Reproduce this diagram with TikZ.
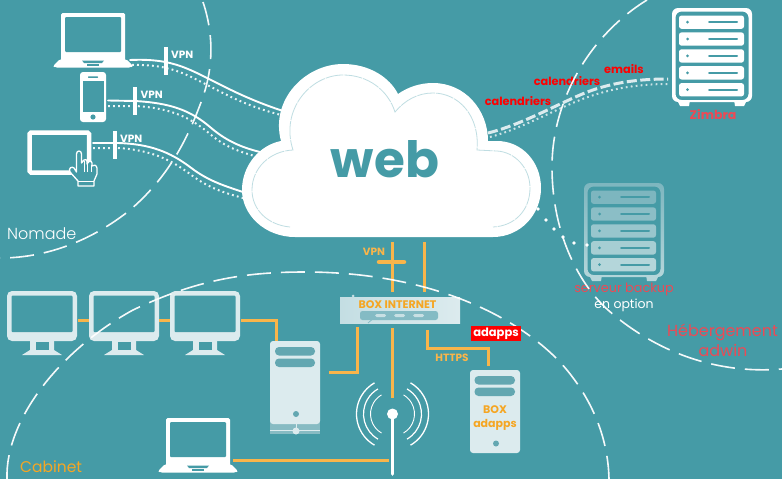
\documentclass[tikz,border=0pt]{standalone}
\usepackage{fontspec}
\setmainfont{Poppins}
\newfontfamily\pl[UprightFont={* Light}]{Poppins}
\usetikzlibrary{calc}
\definecolor{bg}{HTML}{459BA6}
\definecolor{pale}{HTML}{DCEBEE}
\definecolor{orng}{HTML}{F9B54A}
\definecolor{orngt}{HTML}{F5A623}
\definecolor{rosey}{HTML}{EC4A55}
\definecolor{barc}{HTML}{63A7B1}
\definecolor{innerc}{HTML}{BFDDE2}
\definecolor{bktop}{HTML}{7DB6BF}
\definecolor{bkbot}{HTML}{B4D6DA}
\definecolor{boxl}{HTML}{C4DEE3}
\definecolor{boxbar}{HTML}{84BBC4}
\definecolor{boxlight}{HTML}{C8E0E4}
\tikzset{
  wire/.style={white,line width=1.9pt,line cap=round},
  dots/.style={white,opacity=.9,line width=2pt,dash pattern=on 1.8pt off 3.2pt},
  zone/.style={white,opacity=.95,line width=1.6pt,dash pattern=on 24pt off 10pt},
  olink/.style={orng,line width=3pt},
  vpnbar/.style={white,line width=3.8pt},
  vlabel/.style={white,font=\fontsize{10.5}{12}\selectfont\bfseries,inner sep=0pt,anchor=west},
  olabel/.style={orngt,font=\fontsize{11}{13}\selectfont\bfseries,inner sep=0pt},
  rlabel/.style={red,font=\fontsize{11.3}{13}\selectfont\bfseries,inner sep=0pt},
  laptop/.pic={
    \fill[white,rounded corners=1.5pt] (0,0) rectangle (64,48);
    \fill[white,rounded corners=2pt] (-1,46)--(65,46)--(72,53)--(70,54.5)--(-6,54.5)--(-8,53)--cycle;
    \fill[bg,rounded corners=1pt] (4,4) rectangle (60,39);
    \fill[bg] (21,47.5) -- (43,47.5) -- (41,50) -- (23,50) -- cycle;
    \fill[bg] (26,51.2) rectangle (38,52.7);
  },
  monitor/.pic={
    \fill[pale,rounded corners=5pt] (0,0) rectangle (70,50);
    \fill[bg,rounded corners=1pt] (4.5,4.5) rectangle (65.5,41);
    \fill[pale] (23,50)--(47,50)--(47,59)--(55,64)--(15,64)--(23,59)--cycle;
    \fill[bg] (29,50.5) rectangle (42,59);
  },
}
\newcommand{\serverpic}[4]{%
  % #1 x, #2 y, #3 top colour, #4 bottom colour
  \begin{scope}[shift={(#1,#2)}]
    \shade[even odd rule,top color=#3,bottom color=#4,rounded corners=6pt]
      (0,0) rectangle (80,94)
      (3.5,3.5) rectangle (76.5,92);
    \fill[#4] (5,92) -- (18,92) -- (17,98) -- (8,98) -- cycle;
    \fill[#4] (62,92) -- (75,92) -- (72,98) -- (63,98) -- cycle;
    \foreach \i/\m in {0/0,1/25,2/50,3/75,4/100}{
      \pgfmathsetmacro{\yy}{7.5+\i*16.9}
      \fill[#4!\m!#3,rounded corners=2.5pt] (7,\yy) rectangle (72,\yy+13.3);
      \fill[bg] (15.5,\yy+6.6) circle (1.5);
      \draw[bg,line width=2pt,line cap=round] (37,\yy+6.6) -- (65,\yy+6.6);
    }
  \end{scope}}
\begin{document}
\begin{tikzpicture}[x=1pt,y=-1pt]
\useasboundingbox (0,0) rectangle (782,479);
\fill[bg] (0,0) rectangle (782,479);

% coordinates of connector ends
\coordinate (lapA) at (130,60);  \coordinate (lapB) at (132,65);
\coordinate (phoA) at (108,100.5); \coordinate (phoB) at (108,106);
\coordinate (tabA) at (93,143); \coordinate (tabB) at (93,148);
\coordinate (cloudA) at (283,111); \coordinate (cloudB) at (281,115);
\coordinate (cloudC) at (260,152); \coordinate (cloudD) at (258,157);
\coordinate (cloudE) at (243,192); \coordinate (cloudF) at (243,198);
\coordinate (cloudG) at (488,133); \coordinate (cloudH) at (490,137);
\coordinate (zimA) at (668,79); \coordinate (zimB) at (668,84);

% wires
\draw[wire] (lapA) .. controls (175,58) and (190,70) .. (225,87) .. controls (245,97) and (262,104) .. (cloudA);
\draw[dots] (lapB) .. controls (175,64) and (190,77) .. (225,94) .. controls (245,104) and (262,110) .. (cloudB);
\draw[wire] (phoA) -- (135,101) .. controls (170,103) and (190,110) .. (210,127) .. controls (225,140) and (240,147) .. (cloudC);
\draw[dots] (phoB) -- (135,106) .. controls (170,108) and (190,117) .. (210,134) .. controls (225,147) and (240,152) .. (cloudD);
\draw[wire] (tabA) -- (118,143) .. controls (150,144) and (170,152) .. (190,167) .. controls (208,181) and (225,186) .. (cloudE);
\draw[dots] (tabB) -- (118,148) .. controls (150,150) and (170,159) .. (190,174) .. controls (208,188) and (225,193) .. (cloudF);

\draw[pale,line width=3pt,dash pattern=on 10pt off 3.5pt] (cloudG) .. controls (520,125) and (550,108) .. (580,95) .. controls (610,82) and (640,79) .. (zimA);
\draw[dots,pale] (cloudH) .. controls (520,129) and (550,112) .. (580,100) .. controls (610,88) and (640,84) .. (zimB);

% VPN bars
\draw[vpnbar] (166,47) -- (166,75);
\draw[vpnbar] (135,87) -- (135,115);
\draw[vpnbar] (115,131) -- (115,159);
\node[vlabel] (vpna) at (171,55) {VPN};
\node[vlabel] (vpnb) at (140.5,95) {VPN};
\node[vlabel] (vpnc) at (120,138.5) {VPN};

% devices
\pic at (61,13) {laptop};
\pic at (166,418) {laptop};
% phone
\fill[white,rounded corners=3pt] (80,72) rectangle (106,122);
\fill[bg] (82.5,81) rectangle (103.5,112);
\fill[bg] (93,117) circle (2.6);
\fill[bg,rounded corners=.5pt] (88,76.3) rectangle (98,77.8);
% tablet
\draw[white,line width=4.5pt,rounded corners=1.5pt] (29.5,132.5) rectangle (89,172.5);
\fill[white] (89,154) circle (1.3);
% hand
\draw[white,fill=bg,line width=1.3pt,line join=round]
  (76.5,154) .. controls (76.5,150) and (81.5,150) .. (81.5,154) -- (81.5,163)
  -- (84,160) .. controls (85.5,158.5) and (87,160) .. (87,161.5) -- (87,164)
  -- (89,161.5) .. controls (90.5,160) and (92,162) .. (92,163) -- (92,166)
  .. controls (93.5,164) and (96.5,165) .. (97,168) -- (97,174) -- (94,181) -- (94,186)
  -- (78,186) -- (78,181) -- (70,172) .. controls (68,168) and (72,166) .. (74,168) -- (76.5,172) -- cycle;
\draw[white,line width=.9pt] (84,161) -- (84,172) (87,163) -- (87,172) (91.5,165) -- (91.5,172) (78,181) -- (94,181);

% cloud
\path[fill=white] (295,237) .. controls (265,237) and (242,215) .. (242,190)
  .. controls (242,165) and (260,145) .. (281,141)
  .. controls (270,100) and (305,64) .. (343,64)
  .. controls (370,64) and (390,78) .. (398,94)
  .. controls (408,87) and (420,83) .. (433,83)
  .. controls (465,83) and (488,110) .. (488,141)
  -- (497,141) .. controls (522,141) and (541,162) .. (541,188)
  .. controls (541,215) and (520,237) .. (493,237) -- cycle;
\draw[innerc,line width=.8pt,dash pattern=on 18pt off 1pt] (290,227) .. controls (268,225) and (252,210) .. (252,190)
  .. controls (252,168) and (270,151) .. (293,150)
  .. controls (280,110) and (310,75) .. (343,75)
  .. controls (368,75) and (388,90) .. (395,112)
  .. controls (405,100) and (418,93) .. (433,93)
  .. controls (458,93) and (480,115) .. (477,150)
  -- (497,151) .. controls (515,152) and (530,168) .. (530,188)
  .. controls (530,210) and (515,226) .. (493,227);
\node[bg,font=\fontsize{50}{50}\selectfont\bfseries,inner sep=0pt,anchor=base] (web) at (385,177) {web};

% servers
\serverpic{672}{8}{white}{white}
\serverpic{584}{183}{bktop}{bkbot}

% backup dots
\foreach \p in {(538,209),(546,220),(554,229),(563,237),(574,243),(587,245)} \fill[white] \p circle (1.9);

% labels top right
\node[rlabel] (c1) at (518,101) {calendriers};
\node[rlabel] (c2) at (567,81) {calendriers};
\node[rlabel] (em) at (624,69) {emails};
\node[rosey,font=\fontsize{12.5}{14}\selectfont\bfseries,inner sep=0pt] (zim) at (713,115) {Zimbra};
\node[rosey,font=\fontsize{12.8}{15}\selectfont,inner sep=0pt] (bk) at (624,289.5) {serveur backup};
\node[white,font=\fontsize{12.5}{15}\selectfont,inner sep=0pt] (opt) at (624,305) {en option};
\node[rosey,font=\fontsize{16}{18}\selectfont,inner sep=0pt] (heb) at (722.5,332) {Hébergement};
\node[rosey,font=\fontsize{16}{18}\selectfont,inner sep=0pt] (adw) at (723,350.5) {adwin};
\node[white,font=\fontsize{16}{18}\selectfont\pl,inner sep=0pt,anchor=west] (nom) at (7,234) {Nomade};
\node[orngt,font=\fontsize{15.5}{18}\selectfont,inner sep=0pt,anchor=west] (cab) at (20,466.5) {Cabinet};

% monitors
\pic at (7,291) {monitor};
\pic at (89,291) {monitor};
\pic at (170,291) {monitor};

% tower
\fill[barc!70!pale] (270,420) rectangle (320,434);
\fill[pale,rounded corners=3pt] (270,341) rectangle (320,424);
\fill[barc,rounded corners=4pt] (275,347) rectangle (315,355.5);
\fill[barc,rounded corners=4pt] (275,358.5) rectangle (315,367);
\fill[barc] (296,414) circle (3);
\draw[pale,line width=1pt] (270,430) -- (320,430) (296,424) -- (296,430);
\fill[pale] (296,431) circle (3.5);

% box internet
\shade[left color=boxl,right color=pale] (340,297) rectangle (460,323);
\fill[boxl] (353,296) circle (1.5);
\fill[boxbar,rounded corners=2.5pt] (360,311) rectangle (438,320);
\foreach \xa/\xb in {375/386,394/405,413/424} \fill[boxlight,rounded corners=1.5pt] (\xa,314) rectangle (\xb,317);
\draw[boxbar,line width=.8pt] (368,323) -- (375,317);
\node[orngt,font=\fontsize{11}{12}\selectfont\bfseries,inner sep=0pt] (boxi) at (397.5,305) {BOX INTERNET};

% box adapps
\fill[pale,rounded corners=3pt] (470,370) rectangle (520,453);
\fill[barc,rounded corners=4pt] (474.5,376) rectangle (515,384.5);
\fill[barc,rounded corners=4pt] (474.5,387.5) rectangle (515,396);
\fill[barc] (496,443.5) circle (3);
\node[olabel] (ba1) at (495,410) {BOX};
\node[olabel] (ba2) at (495,425) {adapps};

% orange links
\coordinate (m1r) at (78,320); \coordinate (m2l) at (89,320);
\coordinate (m2r) at (159,320); \coordinate (m3l) at (170,320);
\coordinate (m3r) at (241,320); \coordinate (towT) at (276.5,341);
\coordinate (towR) at (329,372); \coordinate (boxL) at (357.5,327);
\coordinate (boxB) at (392.5,328); \coordinate (antT) at (392.5,398);
\coordinate (boxR) at (427,330); \coordinate (adH) at (488,348); \coordinate (adT) at (488,366);
\coordinate (lap2) at (233,460); \coordinate (antL) at (389,460);
\coordinate (clA) at (392.5,242); \coordinate (bxA) at (392.5,292);
\coordinate (clB) at (424.5,242); \coordinate (bxB) at (424.5,292);
\coordinate (vpnL) at (379,262); \coordinate (vpnR) at (404,262);
\draw[olink] (m1r) -- (m2l);
\draw[olink] (m2r) -- (m3l);
\draw[olink] (m3r) -| (towT);
\draw[olink] (towR) -| (boxL);
\draw[olink] (boxB) -- (antT);
\draw[olink] (boxR) |- (adH) -- (adT);
\draw[olink] (lap2) -- (antL);
\draw[olink] (clA) -- (bxA);
\draw[olink] (clB) -- (bxB);
\draw[orng,line width=4.5pt,line cap=round] (vpnL) -- (vpnR);
\node[orng,font=\fontsize{10.5}{12}\selectfont\bfseries,inner sep=0pt] (vpno) at (374,252) {VPN};
\node[orng,font=\fontsize{10.5}{12}\selectfont\bfseries,inner sep=0pt] (https) at (452,358) {HTTPS};

% antenna
\coordinate (ant) at (392.5,414);
\draw[white,line width=3.6pt,line cap=round] (ant) -- (392.5,474);
\fill[white] (ant) circle (5.5);
\foreach \r/\w in {36/1.3,29/1.2,22/.9}{
  \draw[white,line width=\w pt] ($(ant)+(120:\r)$) arc[start angle=120,end angle=240,radius=\r];
  \draw[white,line width=\w pt] ($(ant)+(60:\r)$) arc[start angle=60,end angle=-60,radius=\r];
}

% zones (they run over the devices)
\draw[zone] (203,2) .. controls (214,35) and (214,70) .. (200,105) .. controls (185,145) and (165,180) .. (130,210) .. controls (95,238) and (50,258) .. (0,258);
\draw[zone] (647,0) .. controls (590,35) and (552,100) .. (552,167) .. controls (552,235) and (580,285) .. (608,310) .. controls (650,347) and (710,375) .. (782,369);
\draw[zone] (7,479) .. controls (5,420) and (60,350) .. (133,310) .. controls (200,278) and (250,272) .. (305,272) .. controls (420,272) and (510,310) .. (560,362) .. controls (590,395) and (608,435) .. (609,479);

% adapps tag
\node[fill=red,text=white,font=\fontsize{11.5}{12}\selectfont\bfseries,inner sep=0pt,minimum width=50pt,minimum height=15pt] (tag) at (496,333.5) {adapps};
\end{tikzpicture}
\end{document}
